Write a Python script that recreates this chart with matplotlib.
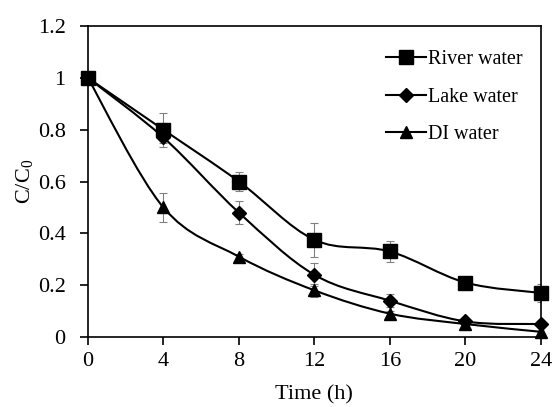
import numpy as np
import matplotlib
matplotlib.use('Agg')
import matplotlib.pyplot as plt
from matplotlib.path import Path
from matplotlib.patches import PathPatch
from matplotlib.lines import Line2D

plt.rcParams['font.family'] = 'Liberation Serif'
plt.rcParams['mathtext.fontset'] = 'custom'
plt.rcParams['mathtext.rm'] = 'Liberation Serif'
plt.rcParams['mathtext.it'] = 'Liberation Serif:italic'

time_h = [0, 4, 8, 12, 16, 20, 24]
river = [1.0, 0.80, 0.60, 0.375, 0.33, 0.21, 0.17]
river_err = [0.0, 0.065, 0.035, 0.065, 0.04, 0.01, 0.035]
lake = [1.0, 0.77, 0.48, 0.24, 0.14, 0.06, 0.05]
lake_err = [0.0, 0.02, 0.045, 0.045, 0.025, 0.01, 0.01]
di = [1.0, 0.50, 0.31, 0.18, 0.09, 0.05, 0.02]
di_err = [0.0, 0.055, 0.01, 0.025, 0.01, 0.005, 0.005]

series = [('River water', river, river_err, 's', 10),
          ('Lake water', lake, lake_err, 'D', 7.5),
          ('DI water', di, di_err, '^', 9)]


def smooth_path(x, y):
    # excel-style smoothed line: cubic bezier through the points
    x = np.asarray(x, float)
    y = np.asarray(y, float)
    n = len(x)
    verts = [(x[0], y[0])]
    codes = [Path.MOVETO]
    for i in range(n - 1):
        p0 = np.array([x[max(i - 1, 0)], y[max(i - 1, 0)]])
        p1 = np.array([x[i], y[i]])
        p2 = np.array([x[i + 1], y[i + 1]])
        p3 = np.array([x[min(i + 2, n - 1)], y[min(i + 2, n - 1)]])
        c1 = p1 + (p2 - p0) / 6.0
        c2 = p2 - (p3 - p1) / 6.0
        verts += [tuple(c1), tuple(c2), tuple(p2)]
        codes += [Path.CURVE4] * 3
    return Path(verts, codes)


fig = plt.figure(figsize=(5.56, 4.07), dpi=100)
ax = fig.add_axes([0.158, 0.172, 0.815, 0.764])

handles = []
for name, vals, err, mk, ms in series:
    ax.add_patch(PathPatch(smooth_path(time_h, vals), fill=False,
                           edgecolor='black', lw=1.5, zorder=2))
    ax.errorbar(time_h, vals, yerr=err, fmt='none', ecolor='#808080',
                elinewidth=0.8, capsize=3, capthick=0.8, zorder=1)
    ax.plot(time_h, vals, linestyle='none', marker=mk, markersize=ms,
            color='black', zorder=3, clip_on=False)
    handles.append(Line2D([], [], color='black', lw=1.5, marker=mk,
                          markersize=ms, label=name))

ax.set_xlim(0, 24)
ax.set_ylim(0, 1.2)
ax.set_xticks(time_h)
ax.set_yticks([0, 0.2, 0.4, 0.6, 0.8, 1.0, 1.2])
ax.set_yticklabels(['0', '0.2', '0.4', '0.6', '0.8', '1', '1.2'])
ax.tick_params(direction='out', length=6, width=1.2, labelsize=16,
               top=False, right=False)
ax.tick_params(axis='y', pad=10)
ax.tick_params(axis='x', pad=5)
for s in ax.spines.values():
    s.set_linewidth(1.2)

ax.set_xlabel('Time (h)', fontsize=16, labelpad=10)
ax.set_ylabel('C/C$_0$', fontsize=16, labelpad=2)

ax.legend(handles=handles, loc='upper right', frameon=False, fontsize=14.5,
          handlelength=2.0, handletextpad=0.1, labelspacing=0.9,
          bbox_to_anchor=(1.0, 0.98))

fig.savefig('out.png', dpi=100)
